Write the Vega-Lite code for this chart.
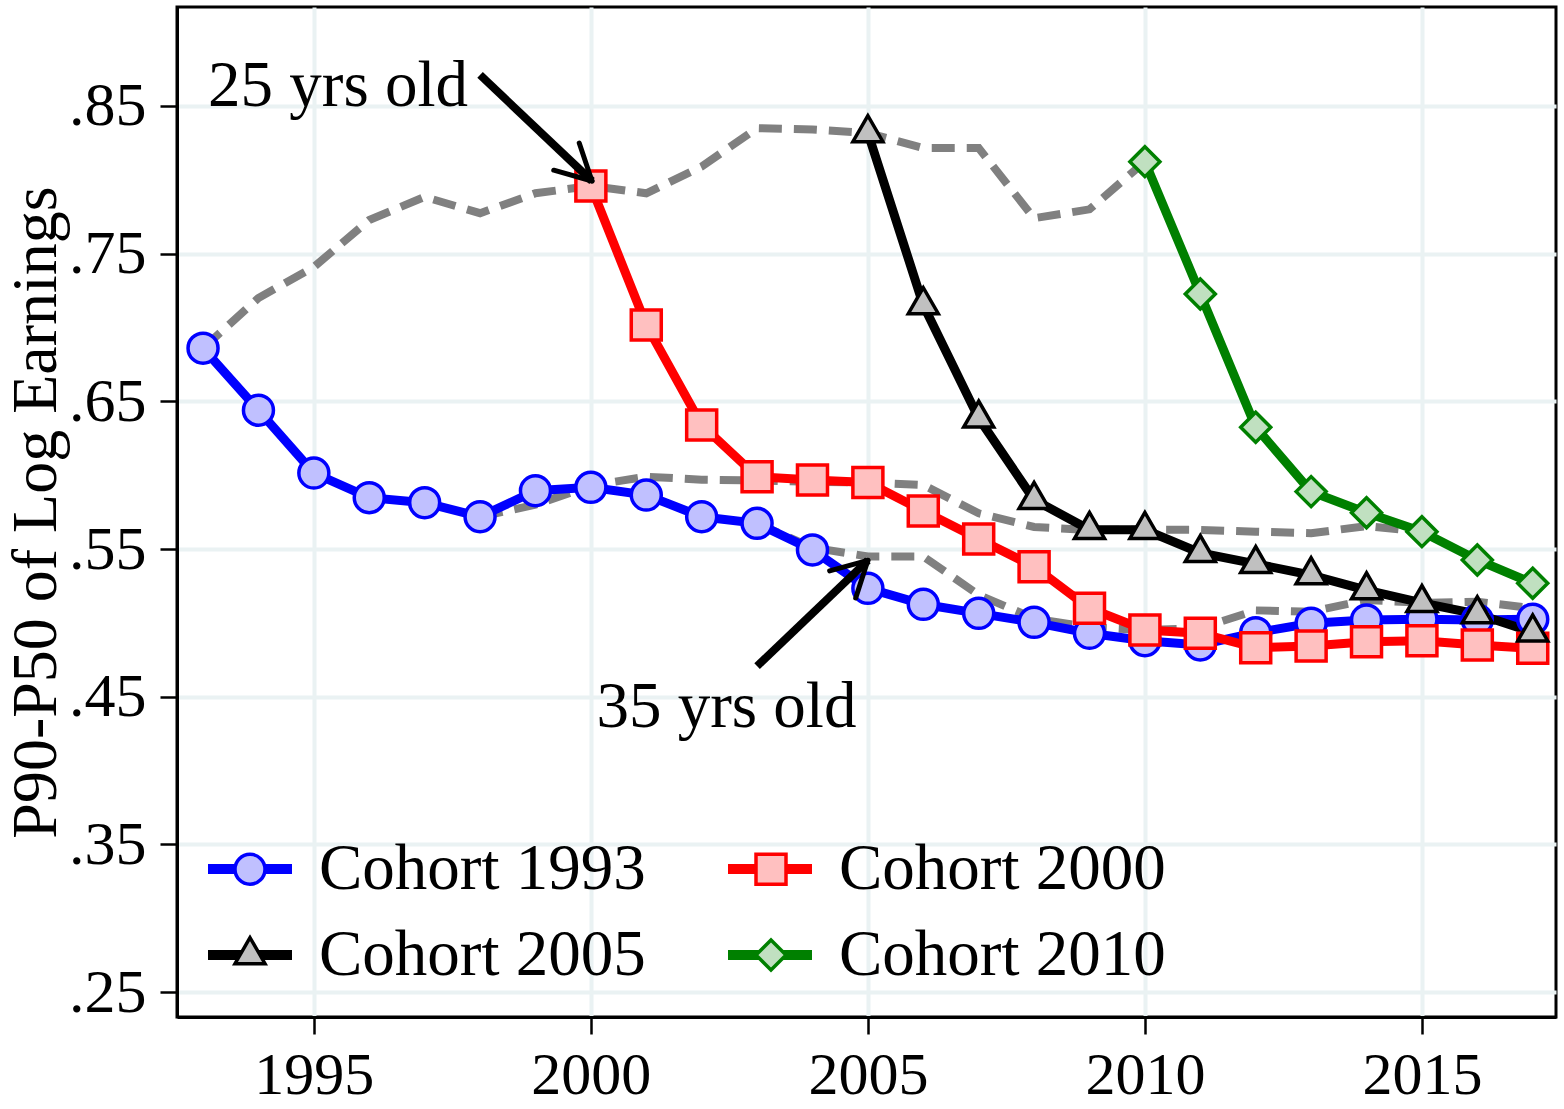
{
  "$schema": "https://vega.github.io/schema/vega-lite/v6.json",
  "width": 1379,
  "height": 1010,
  "autosize": {"type": "none"},
  "padding": {"left": 177, "top": 7, "right": 8, "bottom": 92},
  "background": "white",
  "config": {
    "font": "Liberation Serif",
    "view": {"stroke": "black", "strokeWidth": 3},
    "axis": {
      "labelFont": "Liberation Serif",
      "titleFont": "Liberation Serif",
      "labelColor": "black",
      "titleColor": "black",
      "tickColor": "black",
      "domainColor": "black",
      "domainWidth": 3,
      "tickWidth": 2.5,
      "tickSize": 17,
      "gridColor": "#eaf2f3",
      "gridWidth": 4,
      "gridOpacity": 1,
      "titleFontWeight": "normal"
    }
  },
  "datasets": {
    "cohorts": [
      {"cohort": "Cohort 1993", "year": 1993, "value": 0.686},
      {"cohort": "Cohort 1993", "year": 1994, "value": 0.644},
      {"cohort": "Cohort 1993", "year": 1995, "value": 0.6015},
      {"cohort": "Cohort 1993", "year": 1996, "value": 0.5848},
      {"cohort": "Cohort 1993", "year": 1997, "value": 0.5814},
      {"cohort": "Cohort 1993", "year": 1998, "value": 0.5719},
      {"cohort": "Cohort 1993", "year": 1999, "value": 0.5895},
      {"cohort": "Cohort 1993", "year": 2000, "value": 0.5918},
      {"cohort": "Cohort 1993", "year": 2001, "value": 0.5866},
      {"cohort": "Cohort 1993", "year": 2002, "value": 0.5719},
      {"cohort": "Cohort 1993", "year": 2003, "value": 0.5674},
      {"cohort": "Cohort 1993", "year": 2004, "value": 0.5494},
      {"cohort": "Cohort 1993", "year": 2005, "value": 0.5234},
      {"cohort": "Cohort 1993", "year": 2006, "value": 0.5126},
      {"cohort": "Cohort 1993", "year": 2007, "value": 0.5065},
      {"cohort": "Cohort 1993", "year": 2008, "value": 0.5004},
      {"cohort": "Cohort 1993", "year": 2009, "value": 0.493},
      {"cohort": "Cohort 1993", "year": 2010, "value": 0.488},
      {"cohort": "Cohort 1993", "year": 2011, "value": 0.4851},
      {"cohort": "Cohort 1993", "year": 2012, "value": 0.4934},
      {"cohort": "Cohort 1993", "year": 2013, "value": 0.4998},
      {"cohort": "Cohort 1993", "year": 2014, "value": 0.502},
      {"cohort": "Cohort 1993", "year": 2015, "value": 0.5025},
      {"cohort": "Cohort 1993", "year": 2016, "value": 0.502},
      {"cohort": "Cohort 1993", "year": 2017, "value": 0.5025},
      {"cohort": "Cohort 2000", "year": 2000, "value": 0.7958},
      {"cohort": "Cohort 2000", "year": 2001, "value": 0.7017},
      {"cohort": "Cohort 2000", "year": 2002, "value": 0.634},
      {"cohort": "Cohort 2000", "year": 2003, "value": 0.599},
      {"cohort": "Cohort 2000", "year": 2004, "value": 0.5968},
      {"cohort": "Cohort 2000", "year": 2005, "value": 0.5951},
      {"cohort": "Cohort 2000", "year": 2006, "value": 0.5758},
      {"cohort": "Cohort 2000", "year": 2007, "value": 0.5568},
      {"cohort": "Cohort 2000", "year": 2008, "value": 0.5381},
      {"cohort": "Cohort 2000", "year": 2009, "value": 0.5099},
      {"cohort": "Cohort 2000", "year": 2010, "value": 0.4952},
      {"cohort": "Cohort 2000", "year": 2011, "value": 0.493},
      {"cohort": "Cohort 2000", "year": 2012, "value": 0.4832},
      {"cohort": "Cohort 2000", "year": 2013, "value": 0.4844},
      {"cohort": "Cohort 2000", "year": 2014, "value": 0.4873},
      {"cohort": "Cohort 2000", "year": 2015, "value": 0.488},
      {"cohort": "Cohort 2000", "year": 2016, "value": 0.4851},
      {"cohort": "Cohort 2000", "year": 2017, "value": 0.4828},
      {"cohort": "Cohort 2005", "year": 2005, "value": 0.8317},
      {"cohort": "Cohort 2005", "year": 2006, "value": 0.7152},
      {"cohort": "Cohort 2005", "year": 2007, "value": 0.6385},
      {"cohort": "Cohort 2005", "year": 2008, "value": 0.5834},
      {"cohort": "Cohort 2005", "year": 2009, "value": 0.5631},
      {"cohort": "Cohort 2005", "year": 2010, "value": 0.5631},
      {"cohort": "Cohort 2005", "year": 2011, "value": 0.5474},
      {"cohort": "Cohort 2005", "year": 2012, "value": 0.54},
      {"cohort": "Cohort 2005", "year": 2013, "value": 0.5324},
      {"cohort": "Cohort 2005", "year": 2014, "value": 0.5222},
      {"cohort": "Cohort 2005", "year": 2015, "value": 0.5136},
      {"cohort": "Cohort 2005", "year": 2016, "value": 0.506},
      {"cohort": "Cohort 2005", "year": 2017, "value": 0.4937},
      {"cohort": "Cohort 2010", "year": 2010, "value": 0.8123},
      {"cohort": "Cohort 2010", "year": 2011, "value": 0.7227},
      {"cohort": "Cohort 2010", "year": 2012, "value": 0.6325},
      {"cohort": "Cohort 2010", "year": 2013, "value": 0.5889},
      {"cohort": "Cohort 2010", "year": 2014, "value": 0.5746},
      {"cohort": "Cohort 2010", "year": 2015, "value": 0.5618},
      {"cohort": "Cohort 2010", "year": 2016, "value": 0.5426},
      {"cohort": "Cohort 2010", "year": 2017, "value": 0.5268}
    ],
    "ages": [
      {"age": "25", "year": 1993, "value": 0.686},
      {"age": "25", "year": 1994, "value": 0.72},
      {"age": "25", "year": 1995, "value": 0.741},
      {"age": "25", "year": 1996, "value": 0.7728},
      {"age": "25", "year": 1997, "value": 0.7884},
      {"age": "25", "year": 1998, "value": 0.7774},
      {"age": "25", "year": 1999, "value": 0.7909},
      {"age": "25", "year": 2000, "value": 0.7958},
      {"age": "25", "year": 2001, "value": 0.7909},
      {"age": "25", "year": 2002, "value": 0.809},
      {"age": "25", "year": 2003, "value": 0.835},
      {"age": "25", "year": 2004, "value": 0.834},
      {"age": "25", "year": 2005, "value": 0.8317},
      {"age": "25", "year": 2006, "value": 0.8215},
      {"age": "25", "year": 2007, "value": 0.8215},
      {"age": "25", "year": 2008, "value": 0.774},
      {"age": "25", "year": 2009, "value": 0.78},
      {"age": "25", "year": 2010, "value": 0.8123},
      {"age": "30", "year": 1998, "value": 0.5719},
      {"age": "30", "year": 1999, "value": 0.58},
      {"age": "30", "year": 2000, "value": 0.593},
      {"age": "30", "year": 2001, "value": 0.599},
      {"age": "30", "year": 2002, "value": 0.597},
      {"age": "30", "year": 2003, "value": 0.5965},
      {"age": "30", "year": 2004, "value": 0.5955},
      {"age": "30", "year": 2005, "value": 0.5951},
      {"age": "30", "year": 2006, "value": 0.5934},
      {"age": "30", "year": 2007, "value": 0.5742},
      {"age": "30", "year": 2008, "value": 0.565},
      {"age": "30", "year": 2009, "value": 0.5629},
      {"age": "30", "year": 2010, "value": 0.5631},
      {"age": "30", "year": 2011, "value": 0.563},
      {"age": "30", "year": 2012, "value": 0.5618},
      {"age": "30", "year": 2013, "value": 0.5607},
      {"age": "30", "year": 2014, "value": 0.5656},
      {"age": "30", "year": 2015, "value": 0.5618},
      {"age": "35", "year": 2003, "value": 0.5674},
      {"age": "35", "year": 2004, "value": 0.551},
      {"age": "35", "year": 2005, "value": 0.545},
      {"age": "35", "year": 2006, "value": 0.545},
      {"age": "35", "year": 2007, "value": 0.519},
      {"age": "35", "year": 2008, "value": 0.503},
      {"age": "35", "year": 2009, "value": 0.497},
      {"age": "35", "year": 2010, "value": 0.4952},
      {"age": "35", "year": 2011, "value": 0.4965},
      {"age": "35", "year": 2012, "value": 0.5085},
      {"age": "35", "year": 2013, "value": 0.5076},
      {"age": "35", "year": 2014, "value": 0.5155},
      {"age": "35", "year": 2015, "value": 0.5136},
      {"age": "35", "year": 2016, "value": 0.5144},
      {"age": "35", "year": 2017, "value": 0.51}
    ],
    "notes": [
      {"year": 1993.09, "value": 0.85, "label": "25 yrs old"},
      {"year": 2000.1, "value": 0.4296, "label": "35 yrs old"}
    ],
    "shafts": [
      {"year": 1998.0, "value": 0.871, "year2": 2000.02, "value2": 0.7992},
      {"year": 2003.0, "value": 0.4707, "year2": 2005.0, "value2": 0.5424}
    ],
    "heads": [
      {"year": 2000.02, "value": 0.7992, "year2": 1999.33, "value2": 0.8065},
      {"year": 2000.02, "value": 0.7992, "year2": 1999.79, "value2": 0.8249},
      {"year": 2005.0, "value": 0.5424, "year2": 2004.78, "value2": 0.5169},
      {"year": 2005.0, "value": 0.5424, "year2": 2004.31, "value2": 0.5352}
    ]
  },
  "layer": [
    {
      "data": {"name": "ages"},
      "mark": {"type": "line", "color": "#808080", "strokeWidth": 8, "strokeDash": [23, 12], "strokeCap": "butt"},
      "encoding": {
        "x": {
          "field": "year", "type": "quantitative",
          "scale": {"domain": [1992.53, 2017.42], "nice": false, "zero": false},
          "axis": {"title": null, "values": [1995, 2000, 2005, 2010, 2015], "format": "d", "labelFontSize": 60, "labelPadding": 12, "grid": true}
        },
        "y": {
          "field": "value", "type": "quantitative",
          "scale": {"domain": [0.2332, 0.917], "nice": false, "zero": false},
          "axis": {"title": "P90-P50 of Log Earnings", "titleFontSize": 64, "titlePadding": 0, "values": [0.25, 0.35, 0.45, 0.55, 0.65, 0.75, 0.85], "labelExpr": "substring(format(datum.value, '.2f'), 1)", "labelFontSize": 62, "labelPadding": 14, "labelDy": 8, "grid": true}
        },
        "detail": {"field": "age"}
      }
    },
    {
      "data": {"name": "cohorts"},
      "mark": {"type": "line", "strokeWidth": 9},
      "encoding": {
        "x": {"field": "year", "type": "quantitative"},
        "y": {"field": "value", "type": "quantitative"},
        "color": {
          "field": "cohort", "type": "nominal",
          "scale": {"domain": ["Cohort 1993", "Cohort 2000", "Cohort 2005", "Cohort 2010"], "range": ["#0000ff", "#ff0000", "#000000", "#008000"]},
          "legend": {"orient": "none", "direction": "horizontal", "legendX": 26, "legendY": 815, "columns": 2, "columnPadding": 62, "rowPadding": 6, "title": null, "padding": 0, "labelFontSize": 65, "labelFont": "Liberation Serif", "labelColor": "black", "labelOffset": 22, "labelLimit": 500, "symbolType": "stroke", "symbolSize": 7056, "symbolStrokeWidth": 10, "zindex": 1}
        }
      }
    },
    {
      "data": {"name": "cohorts"},
      "mark": {"type": "point", "filled": true, "opacity": 1, "strokeWidth": 3.5},
      "encoding": {
        "x": {"field": "year", "type": "quantitative"},
        "y": {"field": "value", "type": "quantitative"},
        "shape": {
          "field": "cohort", "type": "nominal",
          "scale": {"range": ["circle", "square", "M0,-1.155L-1,0.577L1,0.577Z", "diamond"]},
          "legend": {"orient": "none", "direction": "horizontal", "legendX": 40.5, "legendY": 829.5, "columns": 2, "columnPadding": 419, "rowPadding": 20, "title": null, "padding": 0, "labelFontSize": 65, "labelExpr": "''", "labelOffset": 36.5, "symbolStrokeWidth": 3.5, "symbolOpacity": 1, "zindex": 2}
        },
        "fill": {
          "field": "cohort", "type": "nominal",
          "scale": {"range": ["#c0c0ff", "#ffc0c0", "#c0c0c0", "#c0e0c0"]},
          "legend": {"orient": "none", "direction": "horizontal", "legendX": 40.5, "legendY": 829.5, "columns": 2, "columnPadding": 419, "rowPadding": 20, "title": null, "padding": 0, "labelFontSize": 65, "labelExpr": "''", "labelOffset": 36.5, "symbolStrokeWidth": 3.5, "symbolOpacity": 1, "zindex": 2}
        },
        "stroke": {
          "field": "cohort", "type": "nominal",
          "scale": {"range": ["#0000ff", "#ff0000", "#000000", "#008000"]},
          "legend": {"orient": "none", "direction": "horizontal", "legendX": 40.5, "legendY": 829.5, "columns": 2, "columnPadding": 419, "rowPadding": 20, "title": null, "padding": 0, "labelFontSize": 65, "labelExpr": "''", "labelOffset": 36.5, "symbolStrokeWidth": 3.5, "symbolOpacity": 1, "zindex": 2}
        },
        "size": {
          "field": "cohort", "type": "nominal",
          "scale": {"range": [900, 900, 1250, 1800]},
          "legend": {"orient": "none", "direction": "horizontal", "legendX": 40.5, "legendY": 829.5, "columns": 2, "columnPadding": 419, "rowPadding": 20, "title": null, "padding": 0, "labelFontSize": 65, "labelExpr": "''", "labelOffset": 36.5, "symbolStrokeWidth": 3.5, "symbolOpacity": 1, "zindex": 2}
        }
      }
    },
    {
      "data": {"name": "shafts"},
      "mark": {"type": "rule", "color": "black", "strokeWidth": 8},
      "encoding": {
        "x": {"field": "year", "type": "quantitative"},
        "y": {"field": "value", "type": "quantitative"},
        "x2": {"field": "year2"},
        "y2": {"field": "value2"}
      }
    },
    {
      "data": {"name": "heads"},
      "mark": {"type": "rule", "color": "black", "strokeWidth": 5, "strokeCap": "round"},
      "encoding": {
        "x": {"field": "year", "type": "quantitative"},
        "y": {"field": "value", "type": "quantitative"},
        "x2": {"field": "year2"},
        "y2": {"field": "value2"}
      }
    },
    {
      "data": {"name": "notes"},
      "mark": {"type": "text", "font": "Liberation Serif", "fontSize": 65, "align": "left", "baseline": "alphabetic", "color": "black"},
      "encoding": {
        "x": {"field": "year", "type": "quantitative"},
        "y": {"field": "value", "type": "quantitative"},
        "text": {"field": "label"}
      }
    }
  ]
}
